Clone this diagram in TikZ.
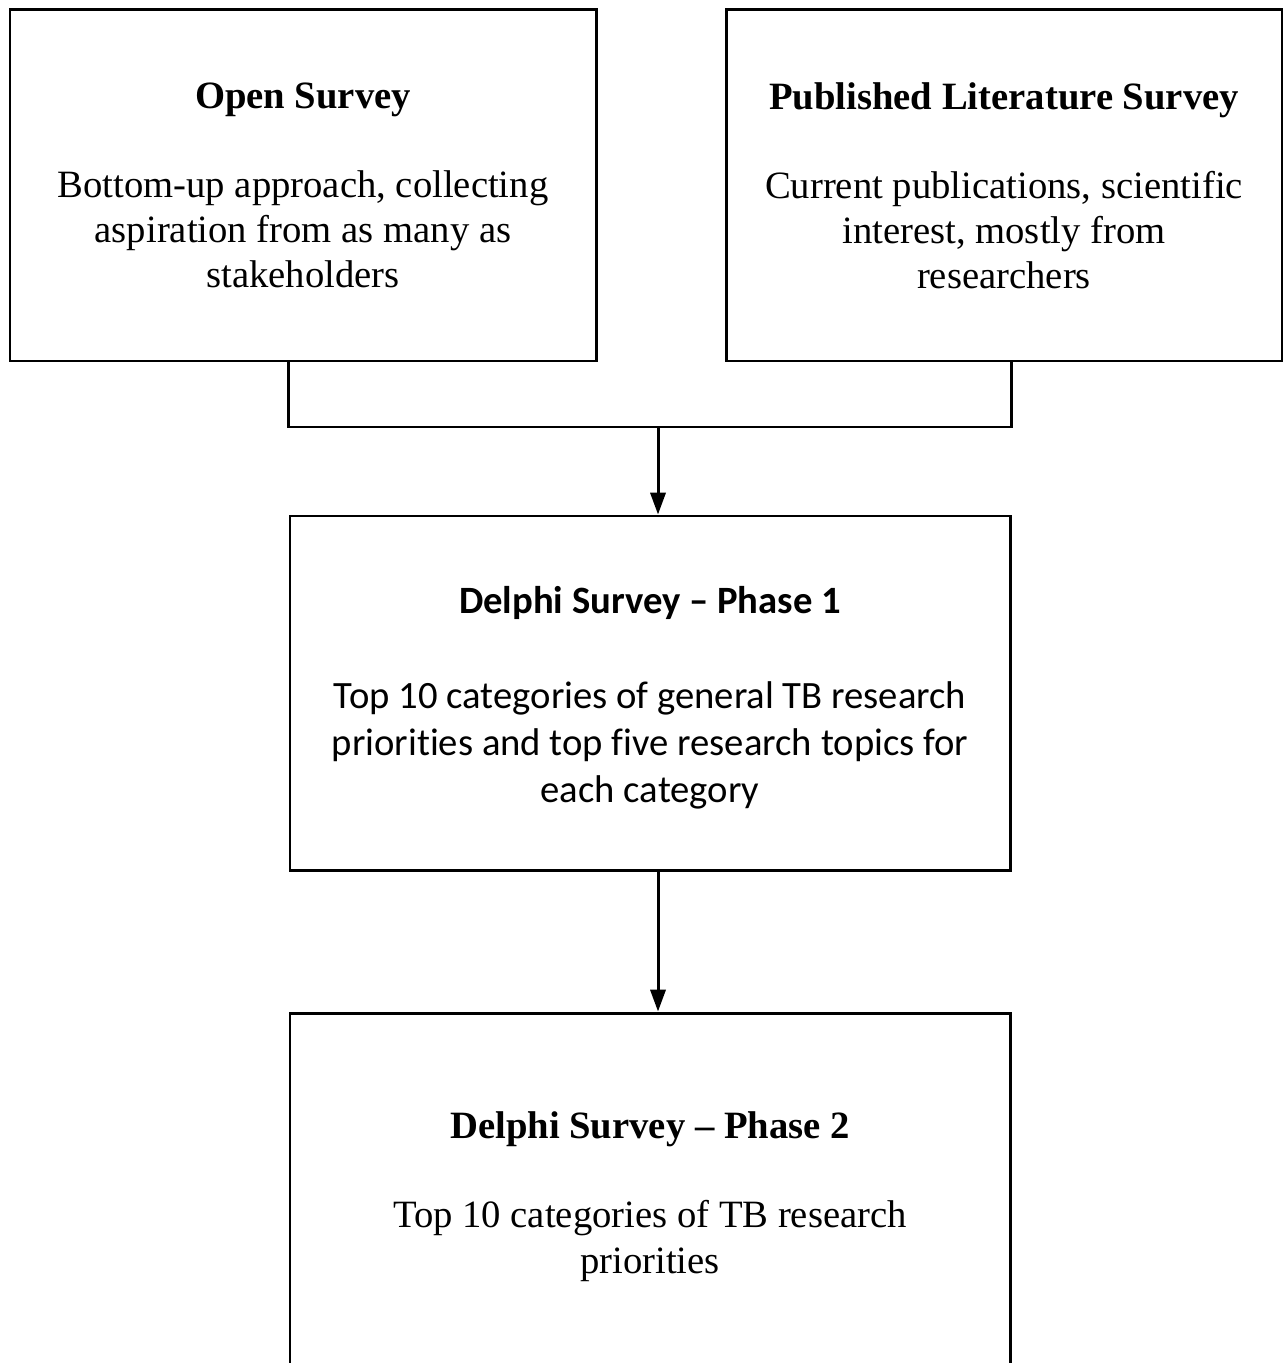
\documentclass[tikz,border=0pt]{standalone}
\usepackage{fontspec}
\setmainfont{Liberation Serif}
\newfontfamily\calibri[Ligatures={TeX,NoCommon}]{Carlito}
\usepackage{tikz}
\usetikzlibrary{arrows.meta}

\begin{document}
\begin{tikzpicture}[
  box/.style={draw, line width=0.85pt, inner sep=0pt},
  txt/.style={align=center, inner sep=0pt, font=\fontsize{11}{12.8}\selectfont},
  arr/.style={line width=0.85pt, -{Triangle[length=6.2pt,width=4.3pt]}}]
\useasboundingbox (0,0) rectangle (12.83,-13.63);
% Boxes
\node[box, minimum width=5.86cm, minimum height=3.51cm] (open) at (3.03,-1.855) {};
\node[box, minimum width=5.56cm, minimum height=3.51cm] (pub) at (10.04,-1.855) {};
\node[box, minimum width=7.2cm, minimum height=3.54cm] (p1) at (6.5,-6.93) {};
\node[box, minimum width=7.2cm, minimum height=3.54cm] (p2) at (6.5,-11.9) {};
% Texts
\node[txt] (opentxt) at (open.center)
  {\textbf{Open Survey}\\[12.5pt]
   Bottom-up approach, collecting\\ aspiration from as many as\\ stakeholders};
\node[txt] (pubtxt) at (pub.center)
  {\textbf{Published Literature Survey}\\[12.5pt]
   Current publications, scientific\\ interest, mostly from\\ researchers};
\node[txt, font=\calibri\fontsize{11}{13.4}\selectfont] (p1txt) at ([yshift=-0.05cm]p1.center)
  {\textbf{Delphi Survey – Phase 1}\\[13.6pt]
   Top 10 categories of general TB research\\
   priorities and top five research topics for\\ each category};
\node[txt, font=\fontsize{11}{13.1}\selectfont] (p2txt) at ([yshift=-0.07cm]p2.center)
  {\textbf{Delphi Survey – Phase 2}\\[12.2pt]
   Top 10 categories of TB research\\ priorities};
% Connectors
\coordinate (join) at (6.58,-4.27);
\draw[line width=0.85pt] (open.south -| p1.west) |- (join) -| (pub.south -| p1.east);
\draw[arr] (join) -- (join |- p1.north);
\draw[arr] (p1.south -| join) -- (p2.north -| join);
\end{tikzpicture}
\end{document}
